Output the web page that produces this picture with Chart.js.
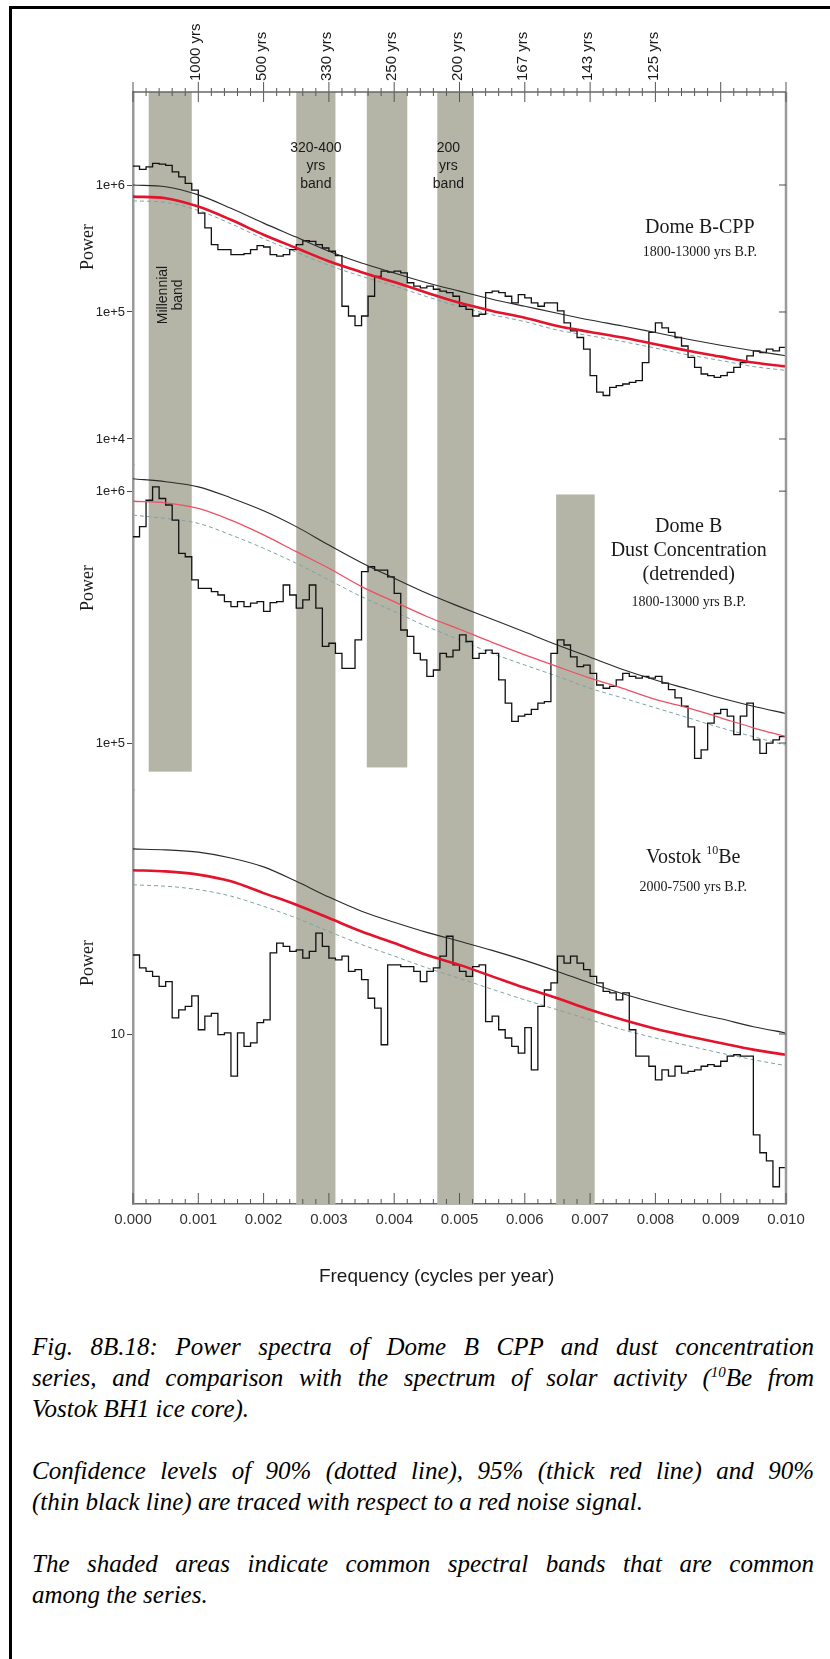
<!DOCTYPE html>
<html lang="en">
<head>
<meta charset="utf-8">
<title>Power spectra Dome B / Vostok</title>
<script src="https://cdn.jsdelivr.net/npm/chart.js@4.4.1/dist/chart.umd.min.js"></script>
<style>
    html, body { margin: 0; padding: 0; background: #fff; }
    body { width: 830px; height: 1659px; position: relative; overflow: hidden; }
    #contenedor { position: absolute; left: 0; top: 0; width: 830px; height: 1300px; }
    .marco { position: absolute; background: #000; z-index: 2; }
    #marcoSup { left: 9px; top: 6px; width: 821px; height: 3px; }
    #marcoIzq { left: 9px; top: 6px; width: 3px; height: 1653px; }
    #pie {
        position: absolute; left: 32px; top: 1331px; width: 782px;
        font-family: 'Liberation Serif', 'Times New Roman', serif;
        font-style: italic; font-size: 25px; line-height: 31px; color: #000;
    }
    #pie .j { text-align: justify; text-align-last: justify; }
    #pie .sep { height: 31px; }
    #pie sup { font-size: 60%; line-height: 0; }
</style>
</head>
<body>
<div class="marco" id="marcoSup"></div>
<div class="marco" id="marcoIzq"></div>
<div id="contenedor"><canvas id="grafica"></canvas></div>
<div id="pie">
    <div class="j">Fig. 8B.18: Power spectra of Dome B CPP and dust concentration</div>
    <div class="j">series, and comparison with the spectrum of solar activity (<sup>10</sup>Be from</div>
    <div>Vostok BH1 ice core).</div>
    <div class="sep"></div>
    <div class="j">Confidence levels of 90% (dotted line), 95% (thick red line) and 90%</div>
    <div>(thin black line) are traced with respect to a red noise signal.</div>
    <div class="sep"></div>
    <div class="j">The shaded areas indicate common spectral bands that are common</div>
    <div>among the series.</div>
</div>
<script>
// Eje de frecuencias (ciclos por año)
const frecuenciaMax = 0.01;
const ticksFrecuencia = [0, 0.001, 0.002, 0.003, 0.004, 0.005, 0.006, 0.007, 0.008, 0.009, 0.01];
const etiquetasPeriodo = ['', '1000 yrs', '500 yrs', '330 yrs', '250 yrs', '200 yrs', '167 yrs', '143 yrs', '125 yrs', '', ''];

// Inicio de cada intervalo del periodograma (ancho 0.0001)
const frecIntervalos = Array.from({ length: 100 }, (_, i) => +(i * 0.0001).toFixed(4));

const frecCurvas = [0, 0.0005, 0.001, 0.0015, 0.002, 0.0025, 0.003, 0.0035, 0.004, 0.0045, 0.005,
    0.0055, 0.006, 0.0065, 0.007, 0.0075, 0.008, 0.0085, 0.009, 0.0095, 0.01];

// Ticks de potencia de cada panel
const ticksCPP = [1e4, 1e5, 1e6];
const ticksPolvo = [1e5, 1e6];
const ticksBerilio = [10];

// Panel 1: Dome B-CPP
const potenciaCPP = [
    1.41e6, 1.33e6, 1.39e6, 1.48e6, 1.46e6, 1.43e6, 1.27e6, 1.16e6, 1.03e6, 9.1e5,
    6.0e5, 4.6e5, 3.39e5, 3.1e5, 3.1e5, 2.83e5, 2.83e5, 2.88e5, 3.1e5, 3.33e5,
    3.25e5, 2.83e5, 2.75e5, 2.83e5, 3.1e5, 3.39e5, 3.64e5, 3.6e5, 3.39e5, 3.19e5,
    3.01e5, 2.78e5, 1.11e5, 9.3e4, 7.8e4, 9.3e4, 1.33e5, 1.91e5, 2.1e5, 2.06e5,
    2.1e5, 2.03e5, 1.7e5, 1.6e5, 1.55e5, 1.6e5, 1.51e5, 1.46e5, 1.42e5, 1.33e5,
    1.11e5, 1.05e5, 9.3e4, 9.6e4, 1.42e5, 1.46e5, 1.42e5, 1.33e5, 1.18e5, 1.37e5,
    1.29e5, 1.18e5, 1.11e5, 1.18e5, 1.18e5, 1.02e5, 8.2e4, 7.1e4, 6.3e4, 5.1e4,
    3.15e4, 2.34e4, 2.2e4, 2.55e4, 2.63e4, 2.71e4, 2.79e4, 2.88e4, 4.0e4, 6.9e4,
    8.2e4, 7.5e4, 6.9e4, 6.3e4, 5.4e4, 4.39e4, 3.66e4, 3.25e4, 3.15e4, 3.06e4,
    3.15e4, 3.35e4, 3.66e4, 4.0e4, 4.52e4, 4.95e4, 4.8e4, 5.1e4, 4.95e4, 5.26e4
];
const negroCPP = [1.0e6, 9.7e5, 8.36e5, 6.56e5, 5.01e5, 3.89e5, 3.01e5, 2.43e5, 2.03e5, 1.7e5, 1.46e5,
    1.26e5, 1.11e5, 9.77e4, 8.65e4, 7.76e4, 6.89e4, 6.11e4, 5.48e4, 4.95e4, 4.52e4];
const rojoCPP = [8.1e5, 7.87e5, 6.76e5, 5.32e5, 4.06e5, 3.19e5, 2.51e5, 2.06e5, 1.72e5, 1.42e5, 1.18e5,
    1.02e5, 9.0e4, 7.76e4, 6.97e4, 6.3e4, 5.58e4, 4.95e4, 4.45e4, 4.0e4, 3.73e4];
const punteadoCPP = [7.5e5, 7.3e5, 6.3e5, 4.95e5, 3.77e5, 2.96e5, 2.33e5, 1.91e5, 1.6e5, 1.32e5, 1.1e5,
    9.5e4, 8.4e4, 7.2e4, 6.5e4, 5.85e4, 5.2e4, 4.6e4, 4.15e4, 3.72e4, 3.47e4];

// Panel 2: Dome B concentración de polvo (sin tendencia)
const potenciaPolvo = [
    6.59e5, 7.23e5, 9.2e5, 1.04e6, 9.35e5, 8.81e5, 7.67e5, 5.66e5, 5.49e5, 4.44e5,
    4.11e5, 4.11e5, 3.99e5, 3.87e5, 3.64e5, 3.48e5, 3.64e5, 3.48e5, 3.59e5, 3.64e5,
    3.33e5, 3.61e5, 3.64e5, 4.24e5, 3.87e5, 3.43e5, 3.7e5, 4.24e5, 3.43e5, 2.42e5,
    2.49e5, 2.27e5, 1.98e5, 1.98e5, 2.57e5, 4.79e5, 5.01e5, 4.86e5, 4.86e5, 4.57e5,
    3.93e5, 2.81e5, 2.65e5, 2.27e5, 2.14e5, 1.84e5, 1.95e5, 2.27e5, 2.2e5, 2.34e5,
    2.69e5, 2.53e5, 2.17e5, 2.27e5, 2.34e5, 2.27e5, 1.78e5, 1.44e5, 1.22e5, 1.28e5,
    1.3e5, 1.36e5, 1.44e5, 1.46e5, 2.27e5, 2.57e5, 2.45e5, 2.2e5, 2.01e5, 2.04e5,
    1.89e5, 1.7e5, 1.65e5, 1.68e5, 1.78e5, 1.89e5, 1.84e5, 1.81e5, 1.84e5, 1.81e5,
    1.84e5, 1.73e5, 1.63e5, 1.51e5, 1.4e5, 1.16e5, 8.7e4, 9.4e4, 1.2e5, 1.31e5,
    1.36e5, 1.28e5, 1.08e5, 1.28e5, 1.44e5, 1.03e5, 9.1e4, 1.0e5, 1.03e5, 1.06e5
];
const negroPolvo = [1.12e6, 1.09e6, 1.04e6, 9.4e5, 8.36e5, 7.23e5, 6.11e5, 5.2e5, 4.51e5, 3.93e5, 3.48e5,
    3.1e5, 2.76e5, 2.45e5, 2.19e5, 1.96e5, 1.78e5, 1.64e5, 1.51e5, 1.4e5, 1.31e5];
const rojoPolvo = [9.12e5, 8.99e5, 8.54e5, 7.67e5, 6.7e5, 5.75e5, 4.94e5, 4.18e5, 3.64e5, 3.18e5, 2.83e5,
    2.51e5, 2.24e5, 2.01e5, 1.81e5, 1.65e5, 1.49e5, 1.38e5, 1.26e5, 1.15e5, 1.06e5];
const punteadoPolvo = [8.03e5, 7.79e5, 7.45e5, 6.7e5, 5.93e5, 5.17e5, 4.44e5, 3.81e5, 3.33e5, 2.9e5, 2.57e5,
    2.27e5, 2.04e5, 1.84e5, 1.65e5, 1.51e5, 1.38e5, 1.26e5, 1.15e5, 1.06e5, 9.8e4];

// Panel 3: Vostok 10Be
const potenciaBerilio = [
    20.7, 18.4, 17.8, 17.0, 15.5, 16.2, 11.6, 12.5, 12.9, 14.2,
    10.4, 11.8, 12.1, 9.94, 10.1, 6.78, 10.1, 8.93, 9.21, 11.1,
    11.4, 21.1, 23.1, 22.4, 21.4, 21.7, 20.1, 21.4, 25.3, 22.4,
    20.1, 19.8, 20.5, 17.8, 18.1, 16.5, 13.9, 12.7, 9.06, 18.9,
    18.9, 18.6, 18.6, 17.8, 16.2, 17.8, 18.4, 20.5, 24.6, 18.9,
    17.8, 17.0, 18.6, 18.9, 11.2, 11.8, 10.4, 9.64, 8.93, 8.39,
    10.6, 7.19, 12.9, 15.0, 16.0, 20.5, 19.2, 20.5, 19.2, 18.1,
    17.0, 16.0, 14.8, 14.6, 13.7, 14.6, 10.4, 8.15, 8.15, 7.43,
    6.56, 7.19, 6.78, 7.43, 6.98, 7.09, 7.19, 7.43, 7.54, 7.43,
    7.78, 8.15, 8.26, 8.15, 8.15, 3.95, 3.35, 3.11, 2.45, 2.92
];
const negroBerilio = [55.0, 54.5, 53.4, 50.6, 46.6, 40.8, 35.3, 31.0, 28.0, 25.5, 23.5,
    21.6, 19.7, 17.8, 16.0, 14.5, 13.3, 12.3, 11.5, 10.7, 10.1];
const rojoBerilio = [45.2, 44.7, 43.4, 40.8, 36.6, 32.9, 29.1, 25.7, 23.1, 20.7, 18.9,
    17.0, 15.3, 13.9, 12.5, 11.4, 10.5, 9.8, 9.2, 8.66, 8.26];
const punteadoBerilio = [39.5, 39.0, 37.8, 35.6, 32.4, 29.1, 25.7, 22.8, 20.5, 18.4, 16.7,
    15.1, 13.7, 12.5, 11.4, 10.4, 9.64, 8.98, 8.39, 7.89, 7.47];

// Bandas sombreadas (frecuencias y extremos verticales; null = borde del panel)
const bandaInicio = [0.00024, 0.0025, 0.00358, 0.00466, 0.00648];
const bandaFin = [0.0009, 0.0031, 0.0042, 0.00522, 0.00707];
const bandaEjeSup = ['y1', 'y1', 'y1', 'y1', 'y2'];
const bandaValorSup = [null, null, null, null, 9.7e5];
const bandaEjeInf = ['y2', 'y3', 'y2', 'y3', 'y3'];
const bandaValorInf = [7.7e4, null, 8.0e4, null, null];

const colorBanda = '#b4b4a7';
const colorEje = '#9a9a9a';
const colorTick = '#4a4a4a';
const fuenteSans = "'Liberation Sans', Arial, sans-serif";
const fuenteSerif = "'Liberation Serif', 'Times New Roman', serif";

// Convierte los valores de un panel en puntos para la línea escalonada
function puntosEscalon(valores) {
    const puntos = frecIntervalos.map((f, i) => ({ x: f, y: valores[i] }));
    puntos.push({ x: frecuenciaMax, y: valores[valores.length - 1] });
    return puntos;
}

function puntosCurva(valores) {
    return frecCurvas.map((f, i) => ({ x: f, y: valores[i] }));
}

function crearDatasets(eje, escalon, negro, rojo, punteado, grosorRojo, colorRojo) {
    return [
        { data: puntosCurva(rojo), yAxisID: eje, xAxisID: 'x', borderColor: colorRojo, borderWidth: grosorRojo, cubicInterpolationMode: 'monotone' },
        { data: puntosCurva(negro), yAxisID: eje, xAxisID: 'x', borderColor: '#2a2a2a', borderWidth: 1.1, cubicInterpolationMode: 'monotone' },
        { data: puntosEscalon(escalon), yAxisID: eje, xAxisID: 'x', borderColor: '#111', borderWidth: 1.3, stepped: true },
        { data: puntosCurva(punteado), yAxisID: eje, xAxisID: 'x', borderColor: '#7fa3a3', borderWidth: 1, borderDash: [4, 3], cubicInterpolationMode: 'monotone' }
    ];
}

const datasets = [
    ...crearDatasets('y1', potenciaCPP, negroCPP, rojoCPP, punteadoCPP, 2.6, '#e3132b'),
    ...crearDatasets('y2', potenciaPolvo, negroPolvo, rojoPolvo, punteadoPolvo, 1.3, '#ee4f63'),
    ...crearDatasets('y3', potenciaBerilio, negroBerilio, rojoBerilio, punteadoBerilio, 2.6, '#e3132b')
];

// Escala logarítmica de un panel
function escalaPotencia(min, max, peso, ticks) {
    return {
        type: 'logarithmic',
        position: 'left',
        stack: 'paneles',
        stackWeight: peso,
        min: min,
        max: max,
        afterBuildTicks: escala => { escala.ticks = ticks.map(v => ({ value: v })); },
        afterFit: escala => { escala.width = 133; },
        ticks: {
            padding: 2,
            color: '#222',
            font: { family: fuenteSans, size: 13 },
            callback: v => (v >= 1000 ? Number(v).toExponential(0) : String(v))
        },
        grid: { drawOnChartArea: false, tickLength: 6, color: colorTick, lineWidth: 1 },
        border: { color: colorEje, width: 2.5 }
    };
}

function escribir(ctx, texto, x, y, fuente) {
    ctx.font = fuente;
    ctx.fillStyle = '#1a1a1a';
    ctx.textAlign = 'center';
    ctx.textBaseline = 'middle';
    ctx.fillText(texto, x, y);
}

function escribirVertical(ctx, lineas, x, y, fuente, interlinea, alineacion = 'center') {
    ctx.save();
    ctx.translate(x, y);
    ctx.rotate(-Math.PI / 2);
    ctx.font = fuente;
    ctx.fillStyle = '#1a1a1a';
    ctx.textAlign = alineacion;
    ctx.textBaseline = 'middle';
    lineas.forEach((l, i) => ctx.fillText(l, 0, (i - (lineas.length - 1) / 2) * interlinea));
    ctx.restore();
}

function linea(ctx, x0, y0, x1, y1) {
    ctx.beginPath();
    ctx.moveTo(x0, y0);
    ctx.lineTo(x1, y1);
    ctx.stroke();
}

// Bandas, eje derecho, marcas del eje de frecuencias y rótulos de los paneles
const pluginAnotaciones = {
    id: 'anotaciones',
    beforeDatasetsDraw(chart) {
        const { ctx, scales } = chart;
        ctx.save();
        ctx.fillStyle = colorBanda;
        bandaInicio.forEach((inicio, i) => {
            const eSup = scales[bandaEjeSup[i]];
            const eInf = scales[bandaEjeInf[i]];
            const arriba = bandaValorSup[i] == null ? eSup.top : eSup.getPixelForValue(bandaValorSup[i]);
            const abajo = bandaValorInf[i] == null ? eInf.bottom : eInf.getPixelForValue(bandaValorInf[i]);
            const x0 = scales.x.getPixelForValue(inicio);
            const x1 = scales.x.getPixelForValue(bandaFin[i]);
            ctx.fillRect(x0, arriba, x1 - x0, abajo - arriba);
        });
        ctx.restore();
    },
    afterDraw(chart) {
        const { ctx, chartArea, scales } = chart;
        const ex = scales.x;
        ctx.save();

        // Eje derecho con sus marcas
        ctx.strokeStyle = colorEje;
        ctx.lineWidth = 2.5;
        linea(ctx, chartArea.right, chartArea.top, chartArea.right, chartArea.bottom);
        ctx.strokeStyle = colorTick;
        ctx.lineWidth = 1;
        ['y1', 'y2', 'y3'].forEach(id => {
            scales[id].ticks.forEach(t => {
                const py = scales[id].getPixelForValue(t.value);
                linea(ctx, chartArea.right - 7, py, chartArea.right, py);
            });
        });

        // Marcas mayores y menores de los ejes de frecuencia
        const superior = scales.xSup;
        const ySup = chartArea.top;
        const yInf = chartArea.bottom;
        ctx.strokeStyle = '#555';
        ex.ticks.forEach((t, i) => {
            const px = ex.getPixelForValue(t.value);
            linea(ctx, px, ySup - 10, px, ySup + 10);
            linea(ctx, px, yInf, px, yInf - 11);
            if (i < ex.ticks.length - 1) {
                const paso = (ex.ticks[i + 1].value - t.value) / 5;
                for (let j = 1; j < 5; j++) {
                    const pm = ex.getPixelForValue(t.value + j * paso);
                    linea(ctx, pm, ySup - 4, pm, ySup + 4);
                    linea(ctx, pm, yInf, pm, yInf - 5);
                }
            }
        });
        ctx.strokeStyle = '#666';
        ctx.lineWidth = 1.5;
        linea(ctx, superior.left, ySup, superior.right, ySup);

        // Periodos sobre el eje superior, girados y centrados en su marca
        superior.ticks.forEach((t, i) => {
            if (!etiquetasPeriodo[i]) return;
            const px = superior.getPixelForValue(t.value);
            ctx.fillStyle = '#333';
            escribirVertical(ctx, [etiquetasPeriodo[i]], px - 2, ySup - 11, '15px ' + fuenteSans, 0, 'left');
        });

        // Título del eje de frecuencias
        escribir(ctx, 'Frequency (cycles per year)', ex.getPixelForValue(0.00465), yInf + 73, '19px ' + fuenteSans);

        const y1 = scales.y1, y2 = scales.y2, y3 = scales.y3;

        // Rótulos de potencia
        escribirVertical(ctx, ['Power'], 88, y1.top + 155, '18px ' + fuenteSerif, 0);
        escribirVertical(ctx, ['Power'], 88, y2.top + 123, '18px ' + fuenteSerif, 0);
        escribirVertical(ctx, ['Power'], 88, y3.top + 173, '18px ' + fuenteSerif, 0);

        // Nombres de las series
        escribir(ctx, 'Dome B-CPP', ex.getPixelForValue(0.00868), y1.top + 136, '20px ' + fuenteSerif);
        escribir(ctx, '1800-13000 yrs B.P.', ex.getPixelForValue(0.00868), y1.top + 160, '14px ' + fuenteSerif);
        const xPolvo = ex.getPixelForValue(0.00851);
        escribir(ctx, 'Dome B', xPolvo, y2.top + 62, '20px ' + fuenteSerif);
        escribir(ctx, 'Dust Concentration', xPolvo, y2.top + 86, '20px ' + fuenteSerif);
        escribir(ctx, '(detrended)', xPolvo, y2.top + 110, '20px ' + fuenteSerif);
        escribir(ctx, '1800-13000 yrs B.P.', xPolvo, y2.top + 137, '14px ' + fuenteSerif);

        // Vostok con el superíndice del isótopo
        const xVostok = ex.getPixelForValue(0.00858);
        ctx.font = '20px ' + fuenteSerif;
        const anchoA = ctx.measureText('Vostok ').width;
        const anchoC = ctx.measureText('Be').width;
        ctx.font = '12px ' + fuenteSerif;
        const anchoB = ctx.measureText('10').width;
        const inicioV = xVostok - (anchoA + anchoB + anchoC) / 2;
        ctx.fillStyle = '#1a1a1a';
        ctx.textAlign = 'left';
        ctx.textBaseline = 'middle';
        ctx.font = '20px ' + fuenteSerif;
        ctx.fillText('Vostok ', inicioV, y3.top + 68);
        ctx.font = '12px ' + fuenteSerif;
        ctx.fillText('10', inicioV + anchoA, y3.top + 61);
        ctx.font = '20px ' + fuenteSerif;
        ctx.fillText('Be', inicioV + anchoA + anchoB, y3.top + 68);
        escribir(ctx, '2000-7500 yrs B.P.', xVostok, y3.top + 97, '14px ' + fuenteSerif);

        // Rótulos de las bandas
        const xBanda330 = ex.getPixelForValue(0.0028);
        const xBanda200 = ex.getPixelForValue(0.00483);
        ['320-400', 'yrs', 'band'].forEach((t, i) => escribir(ctx, t, xBanda330, y1.top + 56 + i * 18, '14px ' + fuenteSans));
        ['200', 'yrs', 'band'].forEach((t, i) => escribir(ctx, t, xBanda200, y1.top + 56 + i * 18, '14px ' + fuenteSans));
        escribirVertical(ctx, ['Millennial', 'band'], ex.getPixelForValue(0.00058), y1.top + 203, '14px ' + fuenteSans, 15);

        ctx.restore();
    }
};

const grafica = new Chart(document.getElementById('grafica'), {
    type: 'line',
    data: { datasets: datasets },
    options: {
        responsive: true,
        maintainAspectRatio: false,
        animation: false,
        layout: { padding: { left: 0, right: 44, top: 0, bottom: 0 } },
        elements: { point: { radius: 0 } },
        plugins: { legend: { display: false }, tooltip: { enabled: false } },
        scales: {
            x: {
                type: 'linear',
                position: 'bottom',
                min: 0,
                max: frecuenciaMax,
                afterBuildTicks: escala => { escala.ticks = ticksFrecuencia.map(v => ({ value: v })); },
                afterFit: escala => { escala.height = 96; },
                ticks: {
                    autoSkip: false,
                    maxRotation: 0,
                    padding: 7,
                    color: '#333',
                    font: { family: fuenteSans, size: 15 },
                    callback: v => Number(v).toFixed(3)
                },
                grid: { display: false, drawTicks: false },
                border: { color: '#666', width: 1.5 }
            },
            xSup: {
                type: 'linear',
                position: 'top',
                min: 0,
                max: frecuenciaMax,
                afterBuildTicks: escala => { escala.ticks = ticksFrecuencia.map(v => ({ value: v })); },
                afterFit: escala => { escala.height = 92; },
                ticks: { display: false },
                grid: { display: false, drawTicks: false },
                border: { display: false }
            },
            y3: escalaPotencia(2.09, 94.6, 414, ticksBerilio),
            y2: escalaPotencia(6.51e4, 1.27e6, 325, ticksPolvo),
            y1: escalaPotencia(6240, 5.4e6, 373, ticksCPP)
        }
    },
    plugins: [pluginAnotaciones]
});
</script>
</body>
</html>
